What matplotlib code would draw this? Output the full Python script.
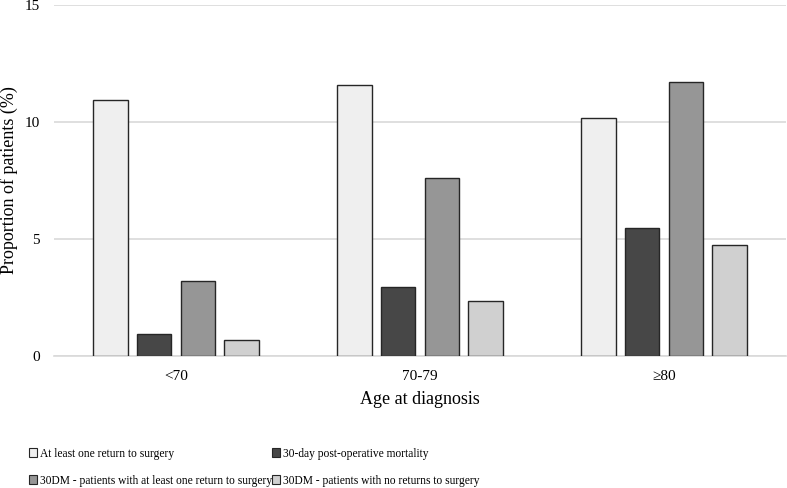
import matplotlib
matplotlib.use("Agg")
import matplotlib.pyplot as plt
import numpy as np

categories = ["<70", "70-79", "\u226580"]
series_names = [
    "At least one return to surgery",
    "30-day post-operative mortality",
    "30DM - patients with at least one return to surgery",
    "30DM - patients with no returns to surgery",
]
at_least_one_return = [10.95, 11.6, 10.15]
mortality_30day = [0.95, 2.95, 5.45]
dm_with_return = [3.2, 7.6, 11.7]
dm_no_return = [0.7, 2.35, 4.75]
yticks = [0, 5, 10, 15]

series = [at_least_one_return, mortality_30day, dm_with_return, dm_no_return]
colors = ["#efefef", "#474747", "#969696", "#d0d0d0"]

plt.rcParams["font.family"] = ["Liberation Serif", "DejaVu Serif"]

fig = plt.figure(figsize=(7.87, 4.88), dpi=100)
ax = fig.add_axes([54 / 787, 1 - 356 / 488, 732 / 787, 351 / 488])

x = np.arange(len(categories))
width = 0.143
step = 0.18
bars = []
for i, (vals, c, name) in enumerate(zip(series, colors, series_names)):
    b = ax.bar(x + (i - 1.5) * step, vals, width, color=c, edgecolor="#262626",
               linewidth=1.0, label=name, zorder=3)
    bars.append(b)

ax.set_xlim(-0.5, 2.5)
ax.set_ylim(0, 15)
ax.set_yticks(yticks)
ax.set_xticks(x)
ax.set_xticklabels(categories, fontsize=11)
ax.tick_params(axis="y", labelsize=11, length=0, pad=10)
ax.tick_params(axis="x", length=0, pad=10)
ax.grid(axis="y", color="#d9d9d9", linewidth=1.2, zorder=0)
for s in ["top", "right", "left"]:
    ax.spines[s].set_visible(False)
ax.spines["bottom"].set_color("#d9d9d9")
ax.spines["bottom"].set_linewidth(1.2)
ax.set_xlabel("Age at diagnosis", fontsize=13, labelpad=6)
ax.set_ylabel("Proportion of patients (%)", fontsize=13)
ax.yaxis.set_label_coords(-36 / 732, 0.5)

order = [0, 2, 1, 3]
leg = fig.legend([bars[i] for i in order], [series_names[i] for i in order],
                 loc="upper left", bbox_to_anchor=(24 / 787, 1 - 443 / 488),
                 ncol=2, frameon=False, fontsize=8.3, handlelength=0.75,
                 handleheight=0.75, handletextpad=0.2, columnspacing=0.0,
                 labelspacing=1.3, borderaxespad=0)
for h in leg.legend_handles:
    h.set_linewidth(0.8)

fig.savefig("out.png", dpi=100)
